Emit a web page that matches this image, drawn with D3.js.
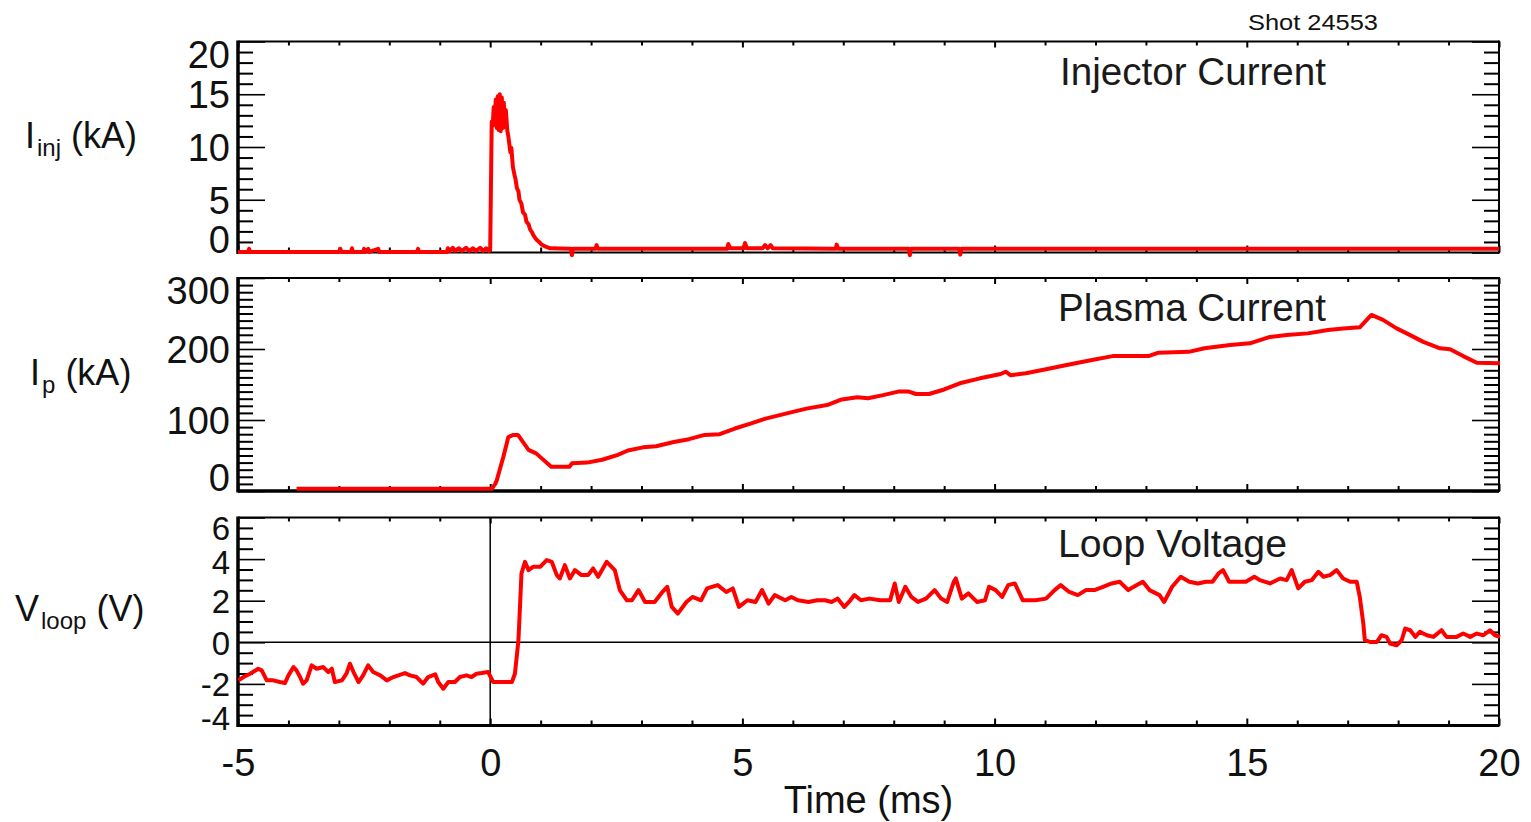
<!DOCTYPE html>
<html>
<head>
<meta charset="utf-8">
<script src="https://cdn.jsdelivr.net/npm/d3@7"></script>
<style>
  html, body { margin: 0; padding: 0; background: #fff; }
  svg { display: block; font-family: "Liberation Sans", Arial, Helvetica, sans-serif; }
</style>
</head>
<body>
<svg id="chart" width="1531" height="822"></svg>
<script>
// ---- Shot 24553 diagnostics ----
const shotLabel = "Shot 24553";
const timeTicks = [-5, 0, 5, 10, 15, 20];

// Injector current (kA) vs time (ms)
const injTime = [
  -5.00, -4.80, -4.78, -4.76, -3.00, -2.97, -2.95, -2.76, -2.74, -2.72,
  -2.52, -2.50, -2.48, -2.42, -2.40, -2.22, -2.20, -1.45, -1.43, -1.41,
  -0.86, -0.84, -0.80, -0.74, -0.70, -0.62, -0.56, -0.48, -0.42, -0.34,
  -0.28, -0.20, -0.14, -0.08, -0.02, 0.00,
  0.03, 0.05, 0.07, 0.09, 0.11, 0.13, 0.15, 0.17, 0.19, 0.21,
  0.23, 0.25, 0.27, 0.29, 0.31, 0.34, 0.36, 0.40, 0.42, 0.45,
  0.48, 0.50, 0.53, 0.56, 0.58, 0.62, 0.65, 0.69, 0.72, 0.76,
  0.79, 0.83, 0.86, 0.92, 0.97, 1.02, 1.10, 1.19,
  1.60, 1.62, 1.64, 2.09, 2.11, 2.13, 4.70, 4.72, 4.76, 5.03,
  5.05, 5.09, 5.40, 5.45, 5.50, 5.56, 5.60, 6.85, 6.87, 6.90,
  8.30, 8.32, 8.34, 9.30, 9.32, 9.34, 20.00
];
const injCurrent = [
  0.05, 0.05, 0.35, 0.05, 0.05, 0.35, 0.05, 0.05, 0.4, 0.05,
  0.05, 0.35, 0.05, 0.35, 0.05, 0.35, 0.05, 0.05, 0.35, 0.05,
  0.05, 0.4, 0.15, 0.45, 0.15, 0.4, 0.15, 0.45, 0.15, 0.4,
  0.15, 0.45, 0.15, 0.4, 0.15, 0.3,
  12.4, 12.0, 13.8, 12.2, 14.5, 11.8, 14.8, 11.6, 15.0, 11.5,
  14.7, 11.8, 14.2, 11.9, 13.5, 11.5, 11.0, 9.5, 9.9, 8.1,
  7.4, 7.0, 6.1, 5.8, 5.0, 4.6, 3.8, 3.6, 2.9, 2.7,
  2.2, 1.9, 1.6, 1.2, 1.0, 0.75, 0.55, 0.4,
  0.35, -0.25, 0.35, 0.35, 0.7, 0.35, 0.35, 0.8, 0.4, 0.4,
  0.9, 0.4, 0.4, 0.7, 0.4, 0.7, 0.4, 0.35, 0.75, 0.35,
  0.35, -0.25, 0.35, 0.35, -0.2, 0.35, 0.35
];

// Plasma current (kA) vs time (ms)
const ipTime = [
  -3.84, 0.03, 0.10, 0.13, 0.26, 0.36, 0.46, 0.55, 0.76, 0.91,
  1.21, 1.57, 1.62, 1.92, 2.22, 2.53, 2.73, 3.03, 3.29, 3.64,
  3.94, 4.25, 4.55, 4.85, 5.16, 5.46, 5.86, 6.27, 6.68, 6.97,
  7.28, 7.49, 7.79, 8.09, 8.30, 8.44, 8.70, 9.00, 9.31, 9.71,
  10.12, 10.22, 10.32, 10.62, 11.02, 11.43, 11.93, 12.34, 13.05, 13.25,
  13.85, 14.16, 14.67, 15.06, 15.46, 15.79, 16.21, 16.61, 16.91, 17.24,
  17.47, 17.70, 17.97, 18.17, 18.50, 18.83, 19.03, 19.29, 19.56, 20.02
];
const ipCurrent = [
  3, 3, 10, 15, 48, 76, 79, 79, 58, 53,
  34, 34, 39, 40, 44, 51, 57, 61.5, 63, 69,
  73, 79, 80, 88, 95, 102, 109, 116, 121, 129,
  132, 130.6, 135, 140, 140, 136.6, 136.6, 143, 151.7, 158.7,
  164.8, 168, 163, 165.8, 171.4, 177.5, 184.5, 190, 190, 194.8,
  196, 201, 205.6, 208, 217, 219.7, 222, 226.8, 229, 230.6,
  248, 241, 229, 222, 210, 201, 199.6, 190, 180.7, 180
];

// Loop voltage (V) vs time (ms)
const vTime = [
  -4.99, -4.89, -4.76, -4.60, -4.53, -4.43, -4.30, -4.17, -4.07, -4.00,
  -3.90, -3.84, -3.77, -3.71, -3.64, -3.54, -3.44, -3.31, -3.21, -3.14,
  -3.08, -2.94, -2.85, -2.78, -2.71, -2.61, -2.52, -2.42, -2.32, -2.18,
  -2.05, -1.92, -1.82, -1.69, -1.59, -1.46, -1.33, -1.23, -1.09, -1.03,
  -0.93, -0.83, -0.70, -0.60, -0.47, -0.37, -0.27, -0.17, -0.04, 0.06,
  0.43, 0.49, 0.56, 0.59, 0.62, 0.69, 0.76, 0.85, 0.99, 1.12,
  1.22, 1.32, 1.38, 1.48, 1.58, 1.68, 1.81, 1.94, 2.04, 2.14,
  2.31, 2.47, 2.57, 2.71, 2.81, 2.94, 3.07, 3.17, 3.26, 3.39,
  3.51, 3.60, 3.72, 3.89, 4.01, 4.18, 4.30, 4.51, 4.68, 4.81,
  4.93, 5.10, 5.26, 5.39, 5.52, 5.64, 5.85, 5.97, 6.10, 6.31,
  6.48, 6.64, 6.77, 6.89, 7.02, 7.14, 7.22, 7.35, 7.52, 7.73,
  7.93, 8.02, 8.10, 8.23, 8.35, 8.48, 8.64, 8.81, 8.94, 9.06,
  9.19, 9.23, 9.35, 9.48, 9.65, 9.81, 9.89, 10.02, 10.15, 10.27,
  10.40, 10.56, 10.81, 11.02, 11.19, 11.31, 11.48, 11.65, 11.81, 11.98,
  12.15, 12.32, 12.48, 12.65, 12.82, 12.94, 13.07, 13.27, 13.36, 13.52,
  13.69, 13.86, 14.03, 14.19, 14.32, 14.44, 14.53, 14.65, 14.82, 14.98,
  15.15, 15.26, 15.46, 15.66, 15.79, 15.89, 16.02, 16.15, 16.29, 16.42,
  16.52, 16.65, 16.78, 16.91, 17.05, 17.18, 17.24, 17.31, 17.34, 17.44,
  17.58, 17.67, 17.77, 17.84, 17.97, 18.07, 18.14, 18.24, 18.34, 18.43,
  18.57, 18.70, 18.86, 18.96, 19.16, 19.29, 19.43, 19.56, 19.69, 19.82,
  19.92, 20.02
];
const vLoop = [
  -1.83, -1.67, -1.51, -1.27, -1.35, -1.83, -1.83, -1.91, -1.96, -1.59,
  -1.19, -1.35, -1.67, -1.99, -1.83, -1.11, -1.27, -1.19, -1.43, -1.27,
  -1.91, -1.83, -1.51, -1.03, -1.43, -1.91, -1.59, -1.11, -1.43, -1.59,
  -1.83, -1.67, -1.59, -1.48, -1.59, -1.67, -1.99, -1.67, -1.54, -1.91,
  -2.23, -1.91, -1.91, -1.67, -1.59, -1.67, -1.51, -1.48, -1.43, -1.91,
  -1.91, -1.51, 0.10, 1.70, 3.31, 3.87, 3.47, 3.63, 3.63, 3.95,
  3.87, 3.23, 3.07, 3.71, 3.07, 3.47, 3.23, 3.23, 3.55, 3.15,
  3.87, 3.47, 2.51, 2.02, 2.02, 2.51, 1.94, 1.94, 1.94, 2.35,
  2.67, 1.70, 1.38, 1.94, 2.18, 2.02, 2.59, 2.75, 2.42, 2.59,
  1.70, 2.02, 1.94, 2.51, 1.86, 2.27, 2.02, 2.18, 2.02, 1.94,
  2.02, 2.02, 1.94, 2.10, 1.70, 2.02, 2.27, 2.02, 2.10, 2.02,
  2.02, 2.83, 1.94, 2.67, 2.18, 1.94, 2.10, 2.51, 2.10, 1.94,
  2.91, 3.07, 2.10, 2.35, 1.94, 2.02, 2.67, 2.51, 2.18, 2.75,
  2.83, 2.02, 2.02, 2.10, 2.51, 2.75, 2.42, 2.27, 2.51, 2.51,
  2.67, 2.83, 2.91, 2.51, 2.75, 2.91, 2.51, 2.27, 1.94, 2.67,
  3.15, 2.91, 2.83, 2.91, 2.91, 3.31, 3.47, 2.91, 2.91, 2.91,
  3.15, 2.99, 2.83, 3.07, 2.99, 3.47, 2.59, 2.91, 2.99, 3.39,
  3.15, 3.23, 3.47, 3.07, 2.91, 2.91, 2.18, 0.90, 0.10, 0.02,
  0.02, 0.34, 0.26, -0.06, -0.14, 0.10, 0.66, 0.58, 0.26, 0.50,
  0.34, 0.26, 0.58, 0.26, 0.26, 0.42, 0.26, 0.42, 0.34, 0.58,
  0.34, 0.26
];

// Axis tick values for each panel
const injTicks = [0, 5, 10, 15, 20];
const ipTicks = [0, 100, 200, 300];
const vTicks = [-4, -2, 0, 2, 4, 6];

// ---- layout ----
const svg = d3.select("#chart");
const L = 238, R = 1499;
const x = d3.scaleLinear().domain([-5, 20]).range([L, R]);
const FONT = '"Liberation Sans", Arial, Helvetica, sans-serif';
const plain = d => String(d);   // ASCII hyphen for negative numbers

const panels = [
  { title: "Injector Current", titleX: 1060, titleY: 85, titleLen: 266,
    sym: "I", sub: "inj", unit: " (kA)", labX: 25, labY: 148,
    top: 41.5, bottom: 252.5, domain: [0, 20], ticks: injTicks, minor: 1,
    t: injTime, v: injCurrent, bottomW: 2, labSize: 38, padTop: 12, padBot: 14 },
  { title: "Plasma Current", titleX: 1058, titleY: 321, titleLen: 268,
    sym: "I", sub: "p", unit: " (kA)", labX: 30, labY: 385,
    top: 278, bottom: 491, domain: [0, 300], ticks: ipTicks, minor: 10,
    t: ipTime, v: ipCurrent, bottomW: 3.5, labSize: 38, padTop: 12, padBot: 14 },
  { title: "Loop Voltage", titleX: 1058, titleY: 557, titleLen: 229,
    sym: "V", sub: "loop", unit: " (V)", labX: 15, labY: 621,
    top: 517.5, bottom: 725.5, domain: [-4, 6], ticks: vTicks, minor: 0.5,
    t: vTime, v: vLoop, bottomW: 3, zeroLines: true, labSize: 33, padTop: 10, padBot: 7.5,
    nudge: { "4": 3, "-2": -0.5 } }
];

function styleTicks(sel, w) {
  sel.select(".domain").remove();
  sel.selectAll(".tick line").attr("stroke", "#000").attr("stroke-width", w);
}

panels.forEach(p => {
  const y = d3.scaleLinear().domain(p.domain).range([p.bottom, p.top]);
  const g = svg.append("g");
  const nMinor = Math.round((p.domain[1] - p.domain[0]) / p.minor);
  const minorVals = d3.range(nMinor + 1)
    .map(i => +(p.domain[0] + i * p.minor).toFixed(3))
    .filter(v => !p.ticks.includes(v));
  const xMinor = d3.range(-5, 21).filter(v => !timeTicks.includes(v));

  // left axis: minor + major ticks pointing inward
  g.append("g").attr("transform", `translate(${L},0)`)
    .call(d3.axisLeft(y).tickValues(minorVals).tickSize(-15).tickFormat(""))
    .call(s => styleTicks(s, 2));
  const leftMajor = g.append("g").attr("transform", `translate(${L},0)`)
    .call(d3.axisLeft(y).tickValues(p.ticks).tickSize(-27).tickPadding(8).tickFormat(plain))
    .call(s => styleTicks(s, 1.6));
  leftMajor.attr("font-family", null).attr("font-size", null);
  leftMajor.selectAll(".tick text")
    .attr("font-family", FONT).attr("font-size", p.labSize).attr("fill", "#111")
    .attr("dy", "0.36em")
    .attr("y", d => {
      const ty = y(d);
      const cy = Math.max(p.top + p.padTop, Math.min(p.bottom - p.padBot, ty));
      const n = (p.nudge && p.nudge[String(d)]) || 0;
      return cy - ty + n;
    });

  // right axis mirrors the left one
  g.append("g").attr("transform", `translate(${R},0)`)
    .call(d3.axisRight(y).tickValues(minorVals).tickSize(-15).tickFormat(""))
    .call(s => styleTicks(s, 2));
  g.append("g").attr("transform", `translate(${R},0)`)
    .call(d3.axisRight(y).tickValues(p.ticks).tickSize(-27).tickFormat(""))
    .call(s => styleTicks(s, 1.6));

  // top and bottom time ticks
  g.append("g").attr("transform", `translate(0,${p.top})`)
    .call(d3.axisTop(x).tickValues(xMinor).tickSize(-4).tickFormat(""))
    .call(s => styleTicks(s, 2));
  g.append("g").attr("transform", `translate(0,${p.top})`)
    .call(d3.axisTop(x).tickValues(timeTicks).tickSize(-6).tickFormat(""))
    .call(s => styleTicks(s, 2));
  g.append("g").attr("transform", `translate(0,${p.bottom})`)
    .call(d3.axisBottom(x).tickValues(xMinor).tickSize(-5).tickFormat(""))
    .call(s => styleTicks(s, 2));
  g.append("g").attr("transform", `translate(0,${p.bottom})`)
    .call(d3.axisBottom(x).tickValues(timeTicks).tickSize(-7).tickFormat(""))
    .call(s => styleTicks(s, 2));

  // frame
  g.append("line").attr("x1", L).attr("x2", R).attr("y1", p.top).attr("y2", p.top)
    .attr("stroke", "#000").attr("stroke-width", 2);
  g.append("line").attr("x1", L).attr("x2", R).attr("y1", p.bottom).attr("y2", p.bottom)
    .attr("stroke", "#000").attr("stroke-width", p.bottomW);
  g.append("line").attr("x1", R).attr("x2", R).attr("y1", p.top - 1).attr("y2", p.bottom + 1)
    .attr("stroke", "#000").attr("stroke-width", 2);
  g.append("line").attr("x1", L).attr("x2", L).attr("y1", p.top - 1).attr("y2", p.bottom + 1.5)
    .attr("stroke", "#000").attr("stroke-width", 3.5);

  if (p.zeroLines) {
    g.append("line").attr("x1", L).attr("x2", R).attr("y1", y(0)).attr("y2", y(0))
      .attr("stroke", "#000").attr("stroke-width", 1.5);
    g.append("line").attr("x1", x(0)).attr("x2", x(0)).attr("y1", p.top).attr("y2", p.bottom)
      .attr("stroke", "#000").attr("stroke-width", 1.5);
  }

  // trace
  const line = d3.line().x(i => x(p.t[i])).y(i => y(p.v[i]));
  g.append("path")
    .datum(d3.range(p.t.length))
    .attr("d", line)
    .attr("fill", "none")
    .attr("stroke", "#ff0000")
    .attr("stroke-width", 4)
    .attr("stroke-linejoin", "round")
    .attr("stroke-linecap", "butt");

  // panel title
  g.append("text")
    .attr("x", p.titleX).attr("y", p.titleY)
    .attr("font-size", 38).attr("fill", "#1a1a1a")
    .attr("textLength", p.titleLen).attr("lengthAdjust", "spacingAndGlyphs")
    .text(p.title);

  // axis label with subscript
  const lab = g.append("text")
    .attr("x", p.labX).attr("y", p.labY)
    .attr("font-size", 36).attr("fill", "#111");
  lab.append("tspan").text(p.sym);
  lab.append("tspan").attr("font-size", 24).attr("dx", 2).attr("dy", 8).text(p.sub);
  lab.append("tspan").attr("dy", -8).text(p.unit);
});

// time axis labels under the bottom panel
const last = panels[panels.length - 1];
const xLab = svg.append("g").attr("transform", `translate(0,${last.bottom})`)
  .call(d3.axisBottom(x).tickValues(timeTicks).tickSize(0).tickPadding(0).tickFormat(plain));
xLab.select(".domain").remove();
xLab.attr("font-family", null).attr("font-size", null);
xLab.selectAll(".tick text")
  .attr("font-family", FONT).attr("font-size", 38).attr("fill", "#111")
  .attr("y", 50).attr("dy", 0);

svg.append("text")
  .attr("x", (L + R) / 2).attr("y", 813)
  .attr("text-anchor", "middle")
  .attr("font-size", 38).attr("fill", "#111")
  .text("Time (ms)");

svg.append("text")
  .attr("x", 1248).attr("y", 30)
  .attr("font-size", 22).attr("fill", "#111")
  .attr("textLength", 130).attr("lengthAdjust", "spacingAndGlyphs")
  .text(shotLabel);
</script>
</body>
</html>
